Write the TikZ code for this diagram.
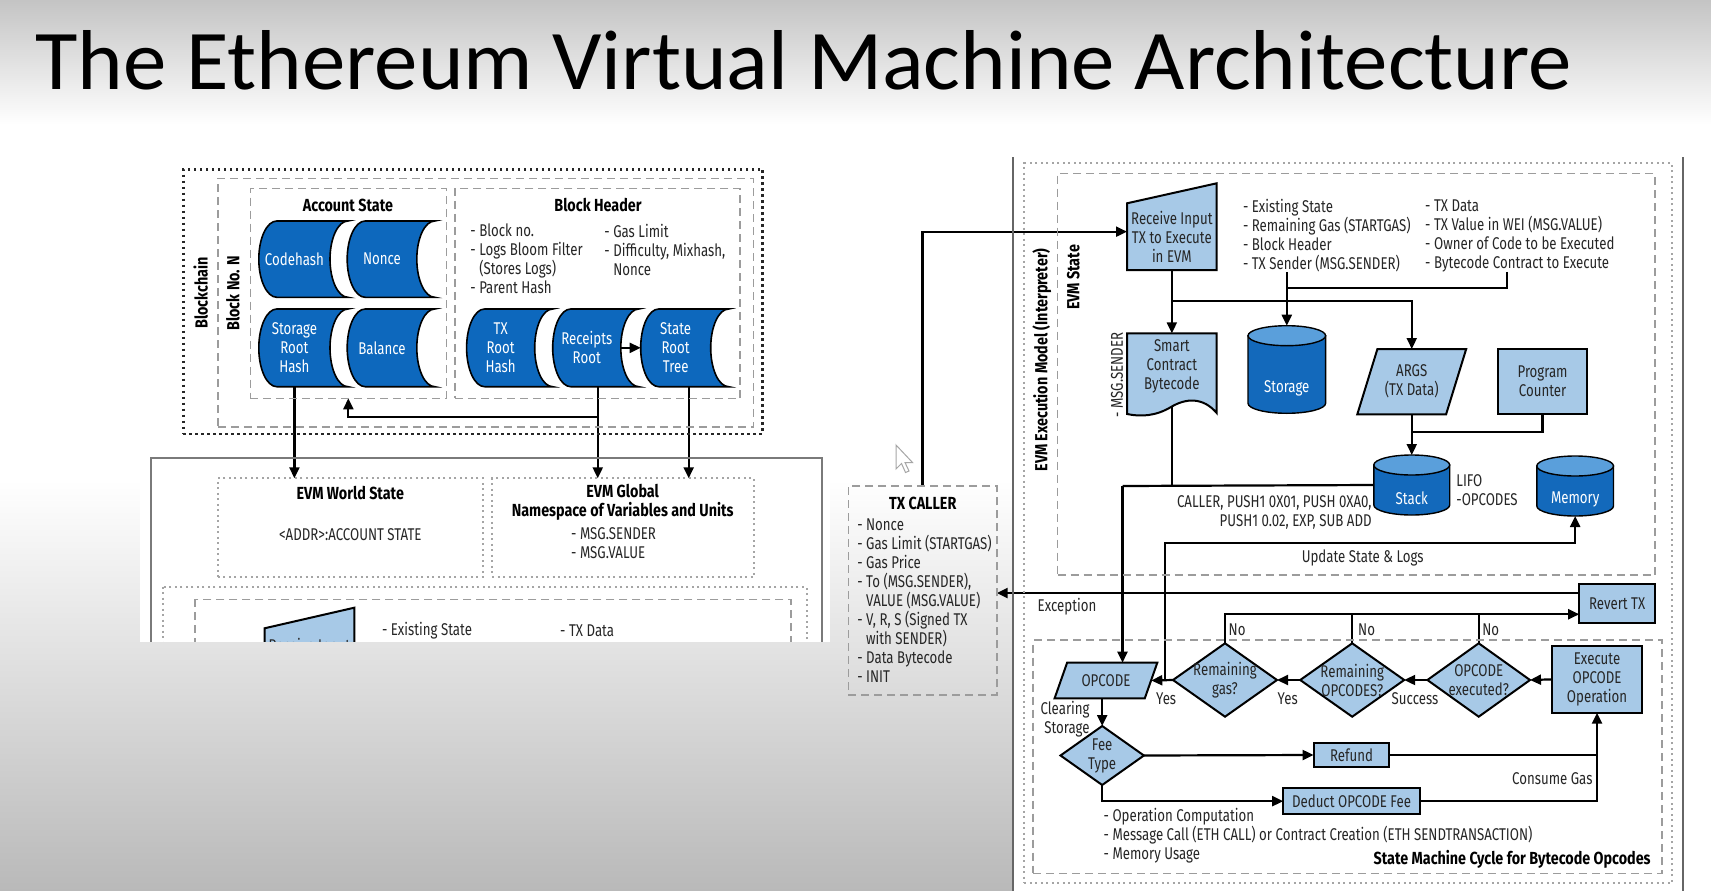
\documentclass[tikz,border=0pt]{standalone}
\usepackage{graphicx}
\usepackage{fontspec}
\setmainfont{Fira Sans}[FakeStretch=0.78]
\newfontfamily\bff{Fira Sans}[FakeStretch=0.82]
\newfontfamily\titlefont{Carlito}
\usetikzlibrary{arrows.meta,calc}
\definecolor{dblue}{HTML}{0D68BD}
\definecolor{lblue}{HTML}{A7C9E7}
\definecolor{cyltop}{HTML}{5A9FDB}
\definecolor{cylbody}{HTML}{1369BB}
\definecolor{tcol}{HTML}{262626}
\definecolor{dashc}{HTML}{9C9C9C}
\definecolor{dotc}{HTML}{A5A5A5}
\definecolor{framec}{HTML}{7A7A7A}
\definecolor{topg}{HTML}{C4C4C4}
\definecolor{botg}{HTML}{B9B9B9}
\pgfdeclarelayer{bg}\pgfdeclarelayer{mid}\pgfsetlayers{bg,mid,main}
\newcommand\fs{\fontsize{17}{19}\selectfont}
\newcommand\fsb{\fontsize{17.5}{19}\selectfont}
\tikzset{
 txt/.style={inner sep=0, outer sep=0, font=\fs, text=tcol, align=left},
 txtb/.style={inner sep=0, outer sep=0, font=\fsb\bff\bfseries, text=black, align=center},
 txtw/.style={inner sep=0, outer sep=0, font=\fs, text=white, align=center},
 arr/.style={line width=2.2pt, draw=black, -{Triangle[length=11pt,width=10pt]}},
 ln/.style={line width=2.2pt, draw=black},
 dashbox/.style={draw=dashc, line width=1.6pt, dash pattern=on 8pt off 5pt, inner sep=0, outer sep=0},
 dotbox/.style={draw=dotc, line width=1.8pt, dash pattern=on 2pt off 3.5pt, inner sep=0, outer sep=0},
 blkdots/.style={draw=black!85, line width=2.6pt, dash pattern=on 2.6pt off 3.4pt, inner sep=0, outer sep=0},
 lbshape/.style={draw=black, fill=lblue, line width=2pt},
 lbbox/.style={lbshape, inner sep=0, outer sep=0, font=\fs, text=tcol, align=center},
 hid/.style={inner sep=0, outer sep=0, font=\fs, text=tcol, align=center},
 stshape/.style={draw=black, fill=dblue, line width=1.6pt},
 cylstyle/.style={draw=black, line width=1.4pt},
 framel/.style={draw=framec, line width=2pt},
}
% stored data shape: name, xl, xr, yt, yb, text
\newcommand\stored[6]{%
 \draw[stshape] ({#2+18},#4) -- (#3,#4)
   .. controls ({#3-0.552*18},#4) and ({#3-18},{(#4+#5)/2-0.552*(#5-#4)/2}) .. ({#3-18},{(#4+#5)/2})
   .. controls ({#3-18},{(#4+#5)/2+0.552*(#5-#4)/2}) and ({#3-0.552*18},#5) .. (#3,#5)
   -- ({#2+18},#5)
   .. controls ({#2+18-0.552*18},#5) and (#2,{(#4+#5)/2+0.552*(#5-#4)/2}) .. (#2,{(#4+#5)/2})
   .. controls (#2,{(#4+#5)/2-0.552*(#5-#4)/2}) and ({#2+18-0.552*18},#4) .. ({#2+18},#4) -- cycle;
 \node[txtw, minimum width={#3-#2-18}, minimum height={#5-#4}] (#1) at ({(#2+#3-18)/2},{(#4+#5)/2}) {#6};
}
% cylinder: name, xl, xr, yt, yb, text
\newcommand\cylnode[6]{%
 \pgfmathsetmacro\cx{(#2+#3)/2}%
 \pgfmathsetmacro\crx{(#3-#2)/2}%
 \pgfmathsetmacro\ctop{#4+10}%
 \pgfmathsetmacro\cbot{#5-10}%
 \draw[cylstyle, fill=cylbody] (#2,\ctop) -- (#2,\cbot) .. controls (#2,{\cbot+5.52}) and ({\cx-0.552*\crx},#5) .. (\cx,#5) .. controls ({\cx+0.552*\crx},#5) and (#3,{\cbot+5.52}) .. (#3,\cbot) -- (#3,\ctop) -- cycle;
 \draw[cylstyle, fill=cyltop] (\cx,\ctop) ellipse [x radius=\crx, y radius=10];
 \node[inner sep=0, outer sep=0, minimum width={#3-#2}, minimum height={#5-#4}] (#1) at (\cx,{(#4+#5)/2}) {};
 \node[txtw] (#1-l) at (\cx,{#5-0.28*(#5-#4)}) {#6};
}
% diamond: name, cx, cy, hw, hh, text
\newcommand\dia[6]{%
 \draw[lbshape] ({#2-#4},#3) -- (#2,{#3-#5}) -- ({#2+#4},#3) -- (#2,{#3+#5}) -- cycle;
 \node[hid, minimum width={2*#4}, minimum height={2*#5}] (#1) at (#2,#3) {#6};
}
% box: style, name, x1, y1, x2, y2, text
\newcommand\boxn[7]{%
 \node[#1, minimum width={#5-#3}, minimum height={#6-#4}] (#2) at ({(#3+#5)/2},{(#4+#6)/2}) {#7};
}
\begin{document}
\begin{tikzpicture}[x=1pt,y=-1pt]
\useasboundingbox (0,0) rectangle (1711,891);
\begin{pgfonlayer}{bg}
\shade[top color=topg, bottom color=white] (0,0) rectangle (1711,125);
\fill[white] (0,124) rectangle (1711,481);
\shade[top color=white, bottom color=botg] (0,480) rectangle (1711,891);
\fill[white] (140,150) rectangle (830,641.5);
\fill[white] (1013.3,150) rectangle (1711,891);
\end{pgfonlayer}

\node[anchor=base west, inner sep=0] (title) at (35,89) {\resizebox{1536pt}{59pt}{\titlefont The Ethereum Virtual Machine Architecture}};

% ---------------- left panel ----------------
\boxn{blkdots}{chain}{183.4}{169.3}{762.4}{434}{}
\boxn{dashbox}{blockn}{217.8}{178.3}{753.6}{426.7}{}
\boxn{dashbox}{acct}{250.4}{188.3}{446.3}{398.3}{}
\boxn{dashbox}{bhdr}{455}{188.3}{740.2}{398.3}{}
\node[txtb, rotate=90] (lblchain) at (200.6,293) {Blockchain};
\node[txtb, rotate=90] (lblblock) at (233,293) {Block No. N};
\node[txtb] (lblacct) at (348,205) {Account State};
\node[txtb] (lblbh) at (598,205) {Block Header};
\node[txt, anchor=north west] (bhl) at (470.4,224.2) {- Block no.\\- Logs Bloom Filter\\\phantom{- }(Stores Logs)\\- Parent Hash};
\node[txt, anchor=north west] (bhr) at (604.4,224.2) {- Gas Limit\\- Difficulty, Mixhash,\\\phantom{- }Nonce};
\stored{codehash}{258.8}{348}{221}{297.3}{Codehash}
\stored{nonce}{347.2}{434.8}{221}{297.3}{Nonce}
\stored{srh}{258.8}{348}{309}{386.7}{Storage\\Root\\Hash}
\stored{bal}{347.2}{434.8}{309}{386.7}{Balance}
\stored{txr}{466.6}{552.7}{309}{386.7}{TX\\Root\\Hash}
\stored{rr}{552.7}{638.8}{309}{386.7}{Receipts\\Root}
\stored{srt}{640.7}{728.7}{309}{386.7}{State\\Root\\Tree}

\draw[framel] (151,641.5) -- (151,458.3) -- (822,458.3) -- (822,641.5);
\boxn{dotbox}{ws}{217.9}{478.3}{483.2}{576.7}{}
\boxn{dotbox}{glob}{492}{478.3}{753.8}{576.7}{}
\node[txtb] (lblws) at (350.3,492.7) {EVM World State};
\node[txt] (addr) at (350.3,534.3) {<ADDR>:ACCOUNT STATE};
\node[txtb] (lblglob) at (622.7,502.2) {EVM Global\\Namespace of Variables and Units};
\node[txt, anchor=north west] (msg) at (571.2,527.8) {- MSG.SENDER\\- MSG.VALUE};
\begin{scope}
\clip (140,450) rectangle (830,641.5);
\draw[dotbox] (162.9,586.7) rectangle (806.6,720);
\draw[dashbox] (195,599.3) rectangle (791,720);
\draw[lbshape] (264.5,628.3) -- (354.3,607.7) -- (354.3,720) -- (264.5,720) -- cycle;
\node[hid] (rcv2) at (309.4,647) {Receive Input};
\node[txt, anchor=west] (es2) at (382,630.7) {- Existing State};
\node[txt, anchor=west] (txd2) at (560.2,630.7) {- TX Data};
\end{scope}

% ---------------- TX caller ----------------
\boxn{dashbox}{txc}{848.3}{486}{996.7}{695}{}
\node[txtb] (lbltxc) at (922.7,503.3) {TX CALLER};
\node[txt, anchor=north west] (txcl) at (857.3,518.5) {- Nonce\\- Gas Limit (STARTGAS)\\- Gas Price\\- To (MSG.SENDER),\\\phantom{- }VALUE (MSG.VALUE)\\- V, R, S (Signed TX\\\phantom{- }with SENDER)\\- Data Bytecode\\- INIT};
\draw[draw=gray!70, fill=white, line width=1pt] (896,445) -- (896,469) -- (901.5,463.5) -- (905.5,472.5) -- (909,471) -- (905,462.5) -- (912.5,462.5) -- cycle;

% ---------------- right panel ----------------
\draw[framel, draw=black!60] (1013.3,157) -- (1013.3,891);
\draw[framel, draw=black!60] (1683.3,157) -- (1683.3,891);
\boxn{dotbox}{exec}{1024.3}{163.3}{1671.7}{883.3}{}
\boxn{dashbox}{evmst}{1057.5}{173.3}{1655}{575}{}
\boxn{dashbox}{smc}{1033.2}{640}{1661.7}{873.3}{}
\node[txtb, rotate=90] (lblexec) at (1041.7,360) {EVM Execution Model (Interpreter)};
\node[txtb, rotate=90] (lblst) at (1073.3,277.5) {EVM State};
\node[txt, rotate=90] (lblms) at (1117,375) {- MSG.SENDER};

\draw[lbshape] (1127,203.3) -- (1216.7,183.3) -- (1216.7,270) -- (1127,270) -- cycle;
\boxn{hid}{recv}{1127}{203.3}{1216.7}{270}{Receive Input\\TX to Execute\\in EVM}
\node[txt, anchor=north west] (tb1) at (1243,199.5) {- Existing State\\- Remaining Gas (STARTGAS)\\- Block Header\\- TX Sender (MSG.SENDER)};
\node[txt, anchor=north west] (tb2) at (1425.2,199.5) {- TX Data\\- TX Value in WEI (MSG.VALUE)\\- Owner of Code to be Executed\\- Bytecode Contract to Execute};

\draw[lbshape] (1127,333.3) -- (1216.7,333.3) -- (1216.7,413) .. controls (1203,397) and (1186,398) .. (1171,407) .. controls (1156,416) and (1141,417) .. (1127,414) -- cycle;
\boxn{hid}{scb}{1127}{333.3}{1216.7}{400}{Smart\\Contract\\Bytecode}
\cylnode{stor}{1248}{1325.6}{325.7}{413.3}{Storage}
\draw[lbshape] (1377.4,349) -- (1466.2,349) -- (1446.1,414.3) -- (1357.3,414.3) -- cycle;
\boxn{hid}{args}{1357.3}{349}{1466.2}{414.3}{ARGS\\(TX Data)}
\boxn{lbbox}{pc}{1497.9}{349}{1587.2}{414.3}{Program\\Counter}
\cylnode{stack}{1373.8}{1449.7}{455}{515}{Stack}
\cylnode{mem}{1536.8}{1613.5}{456}{516}{Memory}
\node[txt, anchor=north east, align=right] (ops) at (1371.6,495.2) {CALLER, PUSH1 0X01, PUSH 0XA0,\\PUSH1 0.02, EXP, SUB ADD};
\node[txt, anchor=north west] (lifo) at (1456.4,474.2) {LIFO\\-OPCODES};
\node[txt] (upd) at (1362.7,558.3) {Update State \& Logs};
\boxn{lbbox}{revert}{1579.2}{584}{1655}{623.3}{Revert TX}
\node[txt, anchor=west] (exc) at (1037.7,606.7) {Exception};

\draw[lbshape] (1067.1,662.7) -- (1157.3,662.7) -- (1144.8,698.3) -- (1054.6,698.3) -- cycle;
\boxn{hid}{opc}{1054.6}{662.7}{1157.3}{698.3}{OPCODE}
\dia{gas}{1225}{680}{52}{36.7}{Remaining\\gas?}
\dia{rop}{1352.2}{680}{52}{36.7}{Remaining\\OPCODES?}
\dia{oex}{1478.7}{680}{51.3}{36.7}{OPCODE\\executed?}
\boxn{lbbox}{exe}{1552.4}{646}{1641.7}{712.7}{Execute\\OPCODE\\Operation}
\dia{fee}{1102.2}{755.5}{41.7}{29.5}{Fee\\Type}
\boxn{lbbox}{refund}{1313.6}{742.7}{1389.4}{767.3}{Refund}
\boxn{lbbox}{ded}{1283.2}{788.3}{1419.8}{814}{Deduct OPCODE Fee}

\node[txt, anchor=west] (no1) at (1228.7,629.3) {No};
\node[txt, anchor=west] (no2) at (1358.2,629.3) {No};
\node[txt, anchor=west] (no3) at (1482.3,629.3) {No};
\node[txt] (yes1) at (1166.2,698.3) {Yes};
\node[txt] (yes2) at (1287.7,698.3) {Yes};
\node[txt] (succ) at (1415,698.3) {Success};
\node[txt, anchor=north east, align=right] (clr) at (1089.5,700.8) {Clearing\\Storage};
\node[txt, anchor=east] (cgas) at (1592.5,779) {Consume Gas};
\node[txt, anchor=north west] (feelist) at (1103.7,807.8) {- Operation Computation\\- Message Call (ETH CALL) or Contract Creation (ETH SENDTRANSACTION)\\- Memory Usage};
\node[txtb, anchor=east] (smclbl) at (1650.6,859.3) {State Machine Cycle for Bytecode Opcodes};

% ---------------- connectors ----------------
\begin{pgfonlayer}{mid}
\draw[arr] (srh.south) -- (srh.south |- ws.north);
\coordinate (rrb) at ([xshift=11pt]rr.south);
\coordinate (rrj) at (rrb |- 0,416.7);
\draw[arr] (rrb) -- (rrb |- glob.north);
\draw[arr] (rrj) -| (acct.south);
\draw[arr] ([xshift=13pt]srt.south) -- ([xshift=13pt]srt.south |- glob.north);
\draw[arr] (rr.east) -- (srt.west);

\draw[arr] (txc.north) |- ([yshift=5pt]recv.west);
\draw[arr] (recv.south) -- (scb.north);
\coordinate (j1) at (recv.south |- 0,300.7);
\draw[arr] (j1) -| (args.north);
\draw[arr] (tb1.south -| stor.north) -- (stor.north);
\coordinate (j2) at (1506.9,287.7);
\draw[ln] (j2 |- tb2.south) -- (j2) -- (j2 -| stor.north);
\draw[arr] (args.south) -- (stack.north);
\draw[ln] (pc.south) |- (args.south |- 0,431.7);
\coordinate (j4) at (1122.5,486);
\draw[ln] (scb.south) -- (scb.south |- j4);
\draw[ln] (stack.west) -- (j4);
\draw[arr] (j4) -- (j4 |- opc.north);
\coordinate (yesj) at (1165.3,680);
\coordinate (j5) at (1165.3,543.3);
\draw[arr] (yesj) -- (j5) -| (mem.south);
\draw[arr] ([yshift=10.6pt]revert.west) -- ([yshift=10.6pt]revert.west -| txc.east);
\draw[arr] (gas.north) |- ([yshift=-10.6pt]revert.west);
\draw[ln] (rop.north) -- (rop.north |- 0,614.3);
\draw[ln] (oex.north) -- (oex.north |- 0,614.3);
\draw[arr] (exe.west) -- (oex.east);
\draw[arr] (oex.west) -- (rop.east);
\draw[arr] (rop.west) -- (gas.east);
\draw[arr] (gas.west) -- ([xshift=-6pt]opc.east);
\draw[arr] (fee.north |- opc.south) -- (fee.north);
\draw[arr] (fee.east) -- (refund.west);
\draw[arr] (fee.south) |- (ded.west);
\draw[arr] (ded.east) -| (exe.south);
\draw[ln] (refund.east) -- (refund.east -| exe.south);
\end{pgfonlayer}
\end{tikzpicture}
\end{document}
